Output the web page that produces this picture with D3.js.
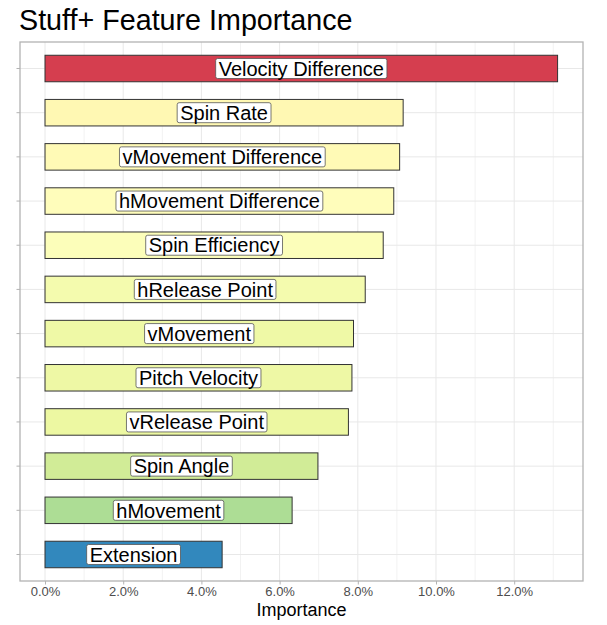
<!DOCTYPE html>
<html>
<head>
<meta charset="utf-8">
<script src="https://cdn.jsdelivr.net/npm/d3@7"></script>
<style>
  body { margin: 0; background: #fff; }
  text { font-family: "Liberation Sans", Arial, Helvetica, sans-serif; }
</style>
</head>
<body>
<div class="chart"></div>
<script>
// feature importance, top to bottom
var features = ["Velocity Difference", "Spin Rate", "vMovement Difference", "hMovement Difference",
    "Spin Efficiency", "hRelease Point", "vMovement", "Pitch Velocity", "vRelease Point",
    "Spin Angle", "hMovement", "Extension"];
var importance = [0.1311, 0.0916, 0.0907, 0.0892, 0.0865, 0.0819, 0.0789, 0.0785, 0.0776,
    0.0698, 0.0632, 0.0453];
var xTicks = [0, 0.02, 0.04, 0.06, 0.08, 0.10, 0.12];
var xMinor = [0.01, 0.03, 0.05, 0.07, 0.09, 0.11, 0.13];

var width = 607, height = 625;
var panel = { left: 20, right: 583, top: 42, bottom: 581 };

var svg = d3.select(".chart").append("svg")
    .attr("width", width).attr("height", height);

var x = d3.scaleLinear().domain([-0.0064, 0.1376]).range([panel.left, panel.right]);
var y = d3.scaleBand().domain(features).range([panel.top, panel.bottom])
    .paddingInner(0.4).paddingOuter(0.3);

// spectral fill, high = red
var ext = d3.extent(importance);
var spectral = ["#3288BD", "#99D594", "#E6F598", "#FFFFBF", "#FEE08B", "#FC8D59", "#D53E4F"];
var fill = d3.scaleLinear()
    .domain(spectral.map((c, i) => ext[0] + i * (ext[1] - ext[0]) / (spectral.length - 1)))
    .range(spectral)
    .interpolate(d3.interpolateLab);

// grid
var grid = svg.append("g");
grid.selectAll(".minor").data(xMinor).enter().append("line")
    .attr("x1", d => x(d)).attr("x2", d => x(d))
    .attr("y1", panel.top).attr("y2", panel.bottom)
    .attr("stroke", "#F2F2F2").attr("stroke-width", 1);
grid.selectAll(".major").data(xTicks).enter().append("line")
    .attr("x1", d => x(d)).attr("x2", d => x(d))
    .attr("y1", panel.top).attr("y2", panel.bottom)
    .attr("stroke", "#E8E8E8").attr("stroke-width", 1);
grid.selectAll(".hmajor").data(features).enter().append("line")
    .attr("x1", panel.left).attr("x2", panel.right)
    .attr("y1", d => y(d) + y.bandwidth() / 2).attr("y2", d => y(d) + y.bandwidth() / 2)
    .attr("stroke", "#E8E8E8").attr("stroke-width", 1);

// bars
svg.append("g").selectAll("rect")
    .data(features)
    .enter()
    .append("rect")
    .attr("x", x(0))
    .attr("y", d => y(d))
    .attr("width", (d, i) => x(importance[i]) - x(0))
    .attr("height", y.bandwidth())
    .attr("fill", (d, i) => fill(importance[i]))
    .attr("stroke", "#333")
    .attr("stroke-width", 1);

// labels
var fs = 20;
var labels = svg.append("g").selectAll("g")
    .data(features)
    .enter()
    .append("g")
    .attr("transform", (d, i) => `translate(${x(importance[i] / 2)},${y(d) + y.bandwidth() / 2})`);
labels.append("rect").attr("class", "box");
labels.append("text")
    .attr("text-anchor", "middle")
    .attr("dy", "0.36em")
    .attr("font-size", fs)
    .attr("fill", "#000")
    .text(d => d);
labels.each(function() {
    var g = d3.select(this);
    var w = g.select("text").node().getComputedTextLength();
    g.select("rect")
        .attr("x", -w / 2 - 3).attr("y", -10)
        .attr("width", w + 6).attr("height", 20)
        .attr("rx", 2)
        .attr("fill", "#fff")
        .attr("stroke", "#555")
        .attr("stroke-width", 0.8);
});

// panel border
svg.append("rect")
    .attr("x", panel.left).attr("y", panel.top)
    .attr("width", panel.right - panel.left).attr("height", panel.bottom - panel.top)
    .attr("fill", "none").attr("stroke", "#B3B3B3").attr("stroke-width", 1.3);

// x axis
var xAxis = svg.append("g")
    .attr("transform", `translate(0,${panel.bottom})`)
    .call(d3.axisBottom(x).tickValues(xTicks).tickFormat(d3.format(".1%")).tickSize(3.5).tickPadding(2.5));
xAxis.select(".domain").remove();
xAxis.selectAll(".tick line").attr("stroke", "#B3B3B3");
xAxis.selectAll(".tick text").attr("fill", "#4D4D4D").attr("font-size", 13)
    .attr("font-family", "Liberation Sans, Arial, sans-serif");

// y axis ticks only
var yAxis = svg.append("g")
    .attr("transform", `translate(${panel.left},0)`)
    .call(d3.axisLeft(y).tickSize(3.5).tickFormat(""));
yAxis.select(".domain").remove();
yAxis.selectAll(".tick line").attr("stroke", "#B3B3B3");

// titles
svg.append("text")
    .attr("x", (panel.left + panel.right) / 2).attr("y", 616)
    .attr("text-anchor", "middle").attr("font-size", 18).attr("fill", "#000")
    .text("Importance");
svg.append("text")
    .attr("x", 19).attr("y", 30)
    .attr("font-size", 28.7).attr("fill", "#000")
    .text("Stuff+ Feature Importance");
</script>
</body>
</html>
